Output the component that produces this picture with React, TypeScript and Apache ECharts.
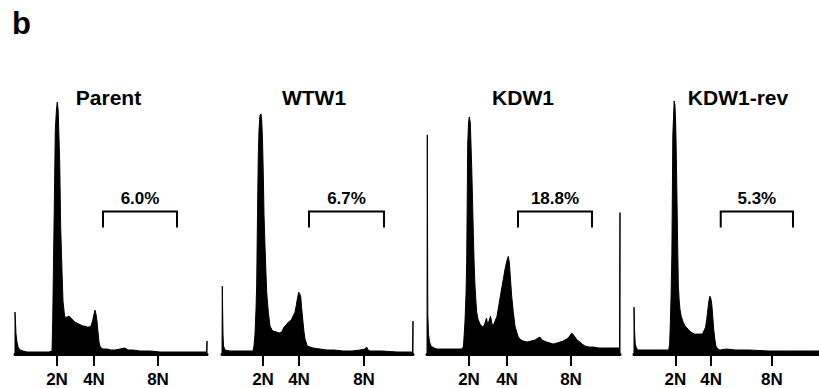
import React, { useEffect, useRef } from "react";
import * as echarts from "echarts";

// ---------- data ----------
const panelNames = ["Parent", "WTW1", "KDW1", "KDW1-rev"];
const polyploidPercent = [6.0, 6.7, 18.8, 5.3];
const tickLabels = ["2N", "4N", "8N"];
const tickChannels = [
  [42, 79, 143],
  [41, 77, 142],
  [42, 80, 144],
  [43, 80, 143],
];
const bracketRanges = [
  [88, 162],
  [87, 162],
  [91, 165],
  [90, 165],
];
const BRACKET_TOP = 143;
const BRACKET_LEG = 127;

const parentHist = [
  [0, 0], [0, 42], [1, 20], [2, 12], [3, 7], [5, 4], [8, 3], [12, 2], [20, 2], [28, 2], [34, 2], [37, 3],
  [37.7, 33], [39, 127], [40.3, 225], [41.5, 246], [42.3, 253], [43.2, 244], [44.7, 193], [45.7, 127], [47, 83], [48, 53],
  [49.7, 37], [52, 37], [54, 38], [56, 36], [58, 34], [60, 32], [62, 31], [64, 30], [66, 29], [68, 28],
  [70, 28], [72, 27], [74, 27], [76, 28], [77.5, 33], [79, 40], [80, 44], [81, 40], [82, 33], [83, 22],
  [84, 12], [85, 8], [86, 6], [88, 5], [92, 5], [96, 4], [100, 4], [105, 5], [110, 6], [113, 4], [118, 4],
  [125, 3], [135, 3], [145, 2], [155, 2], [165, 2], [175, 2], [185, 2], [191.5, 2], [192, 13], [192, 0],
];
const wtw1Hist = [
  [0, 0], [0.3, 68], [1, 20], [1.5, 8], [3, 4], [8, 3], [20, 3], [31, 3], [32, 8], [33, 20], [34, 45],
  [34.7, 70], [35.5, 140], [36.3, 200], [37, 225], [38, 240], [39, 241], [39.7, 235], [40.5, 215],
  [41.3, 180], [42, 140], [43, 108], [44, 80], [44.7, 62], [46.3, 42], [48, 28], [50, 24], [51.3, 23],
  [54.7, 22], [57, 21], [59.7, 22], [62, 27], [64, 29], [66.3, 32], [68, 33], [69.7, 35], [71, 38],
  [73, 42], [74.5, 50], [75.3, 55], [76.7, 62], [77.5, 61], [78.7, 58], [79.5, 48], [80.7, 35], [82, 22],
  [83, 15], [85.3, 8], [88, 7], [91.3, 6], [98, 5], [104.7, 4], [112, 4], [121.3, 3], [130, 3], [138, 4],
  [143, 5], [144.7, 7], [146, 4], [148, 3], [160, 3], [175, 2], [188, 2], [190.5, 2], [191, 33], [191, 0],
];
const kdw1Hist = [
  [0, 0], [0.3, 220], [0.8, 40], [1.5, 20], [2.5, 12], [4, 8], [7, 6], [10, 5], [20, 5], [30, 5], [35, 5],
  [36.5, 8], [38, 33], [39, 60], [39.7, 92], [40.7, 210], [41.5, 232], [42.3, 238], [43.3, 232],
  [44.7, 188], [45.5, 155], [46.3, 122], [47, 95], [48, 68], [49, 52], [49.7, 42], [51, 35], [53, 30],
  [54.5, 28], [56.3, 27], [58, 31], [59.5, 36], [60.5, 30], [62, 33], [63.5, 38], [65, 30], [66.5, 29],
  [68, 33], [70, 38], [72, 50], [74, 62], [76.3, 75], [78, 85], [80, 94], [81.3, 98], [82.3, 92], [83, 82],
  [84.7, 58], [86.3, 42], [88, 28], [89.7, 22], [91.3, 17], [94, 14], [96.3, 13], [100, 12], [104, 13],
  [108, 14], [111, 16], [113, 17], [115, 14], [119.7, 12], [123, 11], [126.3, 10], [130, 11], [133, 12],
  [136, 13], [139.7, 15], [142, 17], [144.7, 21], [146.5, 19], [148, 17], [150, 14], [153, 12], [155, 10],
  [158, 8], [162, 7], [166.3, 7], [172, 6], [179.7, 6], [186, 6], [192.5, 6], [193, 142], [193, 0],
];
const kdw1RevHist = [
  [0, 0], [0, 47], [0.7, 20], [1.3, 10], [2.5, 6], [4.3, 4], [10, 4], [20, 4], [30, 4], [36, 4], [37, 10],
  [37.7, 30], [38.5, 60], [39.3, 100], [40.3, 220], [41.7, 254], [42.5, 250], [43.3, 230], [44, 195],
  [44.7, 150], [45.3, 110], [46, 70], [46.8, 55], [47.7, 45], [49, 38], [51, 32], [53, 28], [56, 25],
  [59, 22], [62.7, 20], [66, 20], [71, 20], [73, 24], [74.3, 27], [75.5, 35], [76.7, 45], [77.7, 53],
  [78.7, 58], [79.7, 56], [80.7, 50], [81.7, 38], [82.7, 25], [84, 14], [85, 8], [87, 5], [89.3, 4],
  [96, 5], [105, 4], [119.3, 4], [140, 3], [160, 3], [186, 3], [192, 3], [192, 0],
];
const histograms = [parentHist, wtw1Hist, kdw1Hist, kdw1RevHist];

// ---------- layout ----------
const gridLefts = [15, 222, 427, 634];
const gridWidths = [192, 191, 193, 192];
const titleCenters = [108.5, 314, 523, 738];
const GRID_TOP = 99;
const GRID_HEIGHT = 256;
const FONT = '"Liberation Sans", Arial, sans-serif';

export default function App() {
  const ref = useRef<HTMLDivElement>(null);

  useEffect(() => {
    if (!ref.current) return;
    const chart = echarts.init(ref.current, undefined, { renderer: "svg" });

    const grids = gridLefts.map((l, i) => ({
      left: l,
      top: GRID_TOP,
      width: gridWidths[i],
      height: GRID_HEIGHT,
    }));

    const xAxes = gridLefts.map((_, i) => ({
      type: "value",
      gridIndex: i,
      min: 0,
      max: gridWidths[i],
      splitLine: { show: false },
      axisLine: { show: true, onZero: false, lineStyle: { color: "#000", width: 3 } },
      axisTick: {
        show: true,
        customValues: tickChannels[i],
        length: 12,
        inside: false,
        lineStyle: { color: "#000", width: 2 },
      },
      axisLabel: {
        show: true,
        customValues: tickChannels[i],
        margin: 17,
        color: "#000",
        fontFamily: FONT,
        fontWeight: "bold",
        fontSize: 17,
        formatter: (v: number) => {
          const k = tickChannels[i].indexOf(v);
          return k >= 0 ? tickLabels[k] : "";
        },
      },
    }));

    const yAxes = gridLefts.map((_, i) => ({
      type: "value",
      gridIndex: i,
      min: 0,
      max: GRID_HEIGHT,
      show: false,
      splitLine: { show: false },
    }));

    const lineSeries = histograms.map((h, i) => ({
      type: "line",
      xAxisIndex: i,
      yAxisIndex: i,
      data: h,
      symbol: "none",
      showSymbol: false,
      clip: false,
      silent: true,
      lineStyle: { color: "#000", width: 1 },
      areaStyle: { color: "#000", opacity: 1 },
    }));

    const bracketSeries = bracketRanges.map((r, i) => ({
      type: "custom",
      xAxisIndex: i,
      yAxisIndex: i,
      clip: false,
      silent: true,
      data: [[r[0], r[1]]],
      renderItem: (_params: any, api: any) => {
        const x1 = api.value(0);
        const x2 = api.value(1);
        const tl = api.coord([x1, BRACKET_TOP]);
        const tr = api.coord([x2, BRACKET_TOP]);
        const bl = api.coord([x1, BRACKET_LEG]);
        const br = api.coord([x2, BRACKET_LEG]);
        return {
          type: "group",
          children: [
            {
              type: "polyline",
              shape: { points: [bl, tl, tr, br] },
              style: { stroke: "#000", lineWidth: 2, fill: null },
            },
            {
              type: "text",
              x: (tl[0] + tr[0]) / 2,
              y: tl[1] - 5,
              style: {
                text: polyploidPercent[i].toFixed(1) + "%",
                font: `bold 17px ${FONT}`,
                fill: "#000",
                align: "center",
                textAlign: "center",
                verticalAlign: "bottom",
                textVerticalAlign: "bottom",
              },
            },
          ],
        };
      },
    }));

    const titles = panelNames.map((name, i) => ({
      type: "text",
      x: titleCenters[i],
      y: 87,
      style: {
        text: name,
        font: `bold 21px ${FONT}`,
        fill: "#000",
        textAlign: "center",
        textVerticalAlign: "top",
      },
    }));

    chart.setOption({
      animation: false,
      backgroundColor: "#fff",
      grid: grids,
      xAxis: xAxes,
      yAxis: yAxes,
      series: [...lineSeries, ...bracketSeries],
      graphic: [
        ...titles,
        {
          type: "text",
          x: 12,
          y: 8,
          style: {
            text: "b",
            font: `bold 31px ${FONT}`,
            fill: "#000",
            textAlign: "left",
            textVerticalAlign: "top",
          },
        },
      ],
    } as any);

    return () => chart.dispose();
  }, []);

  return (
    <div
      ref={ref}
      style={{ position: "fixed", left: 0, top: 0, width: 819, height: 388 }}
    />
  );
}
